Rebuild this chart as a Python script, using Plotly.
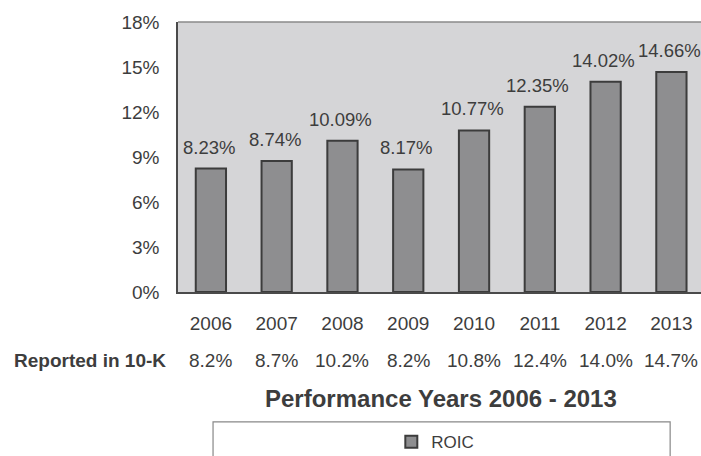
import plotly.graph_objects as go

years = ["2006", "2007", "2008", "2009", "2010", "2011", "2012", "2013"]
roic = [8.23, 8.74, 10.09, 8.17, 10.77, 12.35, 14.02, 14.66]
reported = ["8.2%", "8.7%", "10.2%", "8.2%", "10.8%", "12.4%", "14.0%", "14.7%"]
y_ticks = [0, 3, 6, 9, 12, 15, 18]
y_tick_text = [f"{t}%" for t in y_ticks]

FONT = "Liberation Sans, Arial, sans-serif"
TXT = "#3d3d3d"

fig = go.Figure()
fig.add_trace(go.Bar(
    x=years, y=roic, name="ROIC",
    width=0.46,
    marker=dict(color="#8e8e90", line=dict(color="#3c3c3c", width=2)),
    showlegend=True,
    hoverinfo="skip",
))

annotations = []
for i, v in enumerate(roic):
    annotations.append(dict(x=i, y=v, xref="x", yref="y", text=f"{v:.2f}%",
                            showarrow=False, yanchor="bottom", yshift=9, xshift=-2,
                            font=dict(family=FONT, size=18.5, color=TXT)))
for i, r in enumerate(reported):
    annotations.append(dict(x=i, y=-0.254, xref="x", yref="paper", text=r,
                            showarrow=False, yanchor="middle",
                            font=dict(family=FONT, size=19, color=TXT)))
annotations.append(dict(x=-0.02, y=-0.254, xref="paper", yref="paper",
                        text="<b>Reported in 10-K</b>", showarrow=False,
                        xanchor="right", yanchor="middle",
                        font=dict(family=FONT, size=19, color=TXT)))
annotations.append(dict(x=0.503, y=-0.393, xref="paper", yref="paper",
                        text="<b>Performance Years 2006 - 2013</b>", showarrow=False,
                        xanchor="center", yanchor="middle",
                        font=dict(family=FONT, size=24, color=TXT)))

fig.update_layout(
    width=701, height=456,
    margin=dict(l=178, r=0, t=22, b=164, autoexpand=False),
    paper_bgcolor="white",
    plot_bgcolor="#d5d5d7",
    font=dict(family=FONT, size=19, color=TXT),
    xaxis=dict(type="category", range=[-0.5, 7.45], showgrid=False, showline=True,
               linecolor="#4a4a4a", linewidth=1.5, mirror=False, automargin=False,
               ticks="", ticklabelstandoff=13,
               tickfont=dict(family=FONT, size=19, color=TXT)),
    yaxis=dict(range=[0, 18], tickmode="array", tickvals=y_ticks, ticktext=y_tick_text,
               showgrid=False, automargin=False,
               showline=True, linecolor="#4a4a4a", linewidth=1.5, mirror=False,
               zeroline=False, ticks="", ticklabelstandoff=13,
               tickfont=dict(family=FONT, size=19, color=TXT)),
    showlegend=True,
    legend=dict(x=0.492, xanchor="center", y=-0.556, yanchor="middle",
                orientation="h", bgcolor="rgba(0,0,0,0)",
                font=dict(family=FONT, size=17, color=TXT)),
    annotations=annotations,
    shapes=[
        dict(type="line", xref="paper", yref="paper", x0=0, x1=1, y0=1, y1=1,
             line=dict(color="#8a8a8a", width=1.5)),
        dict(type="rect", xref="paper", yref="paper",
             x0=0.067, x1=0.941, y0=-0.481, y1=-0.65,
             line=dict(color="#888888", width=1.2), fillcolor="rgba(0,0,0,0)"),
    ],
)

fig.write_html(
    "out.html",
    config={"displayModeBar": False},
    post_script="document.body.style.margin='0';document.body.style.overflow='hidden';",
)
